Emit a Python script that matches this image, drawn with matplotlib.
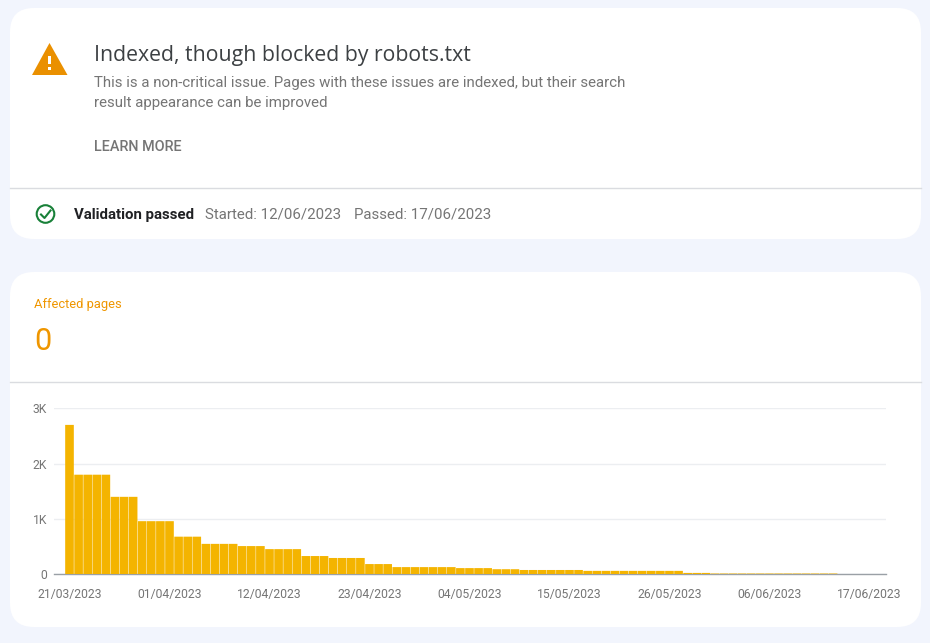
from matplotlib import pyplot as plt
from matplotlib.patches import FancyBboxPatch, Polygon, Circle, Rectangle
import pandas as pd

W, H = 930, 643
BG = '#f2f5fd'
BAR = '#f4b400'
ORANGE = '#ea9000'
GREY = '#757575'

start_date = '2023-03-21'
tick_every = 11
y_ticks = [0, 1000, 2000, 3000]
y_labels = ['0', '1K', '2K', '3K']
affected = ([2700] + [1800] * 4 + [1400] * 3 + [960] * 4 + [680] * 3 + [550] * 4
            + [510] * 3 + [455] * 4 + [330] * 3 + [295] * 4 + [185] * 3 + [130] * 7
            + [112] * 4 + [92] * 3 + [78] * 7 + [62] * 11 + [25] * 3 + [14] * 14
            + [0] * 4)

plt.rcParams['font.family'] = ['Roboto', 'DejaVu Sans']

fig = plt.figure(figsize=(W / 100, H / 100), dpi=100, facecolor=BG)

# page layer in pixel coordinates, y going down
page = fig.add_axes([0, 0, 1, 1])
page.set_xlim(0, W)
page.set_ylim(H, 0)
page.axis('off')


def card(x0, y0, x1, y1, r=24):
    page.add_patch(FancyBboxPatch((x0 + r, y0 + r), x1 - x0 - 2 * r, y1 - y0 - 2 * r,
                                  boxstyle=f'round,pad={r},rounding_size={r}',
                                  fc='white', ec='none'))


card(10, 8, 921, 239)
card(10, 272, 921, 627)
page.plot([10, 921], [188, 188], color='#dadce0', lw=1)
page.plot([10, 921], [382, 382], color='#dadce0', lw=1)

# warning icon
page.add_patch(Polygon([(32, 75), (49.5, 43), (67.5, 75)], fc=ORANGE, ec='none'))
page.add_patch(Rectangle((47.8, 56), 3.4, 8, fc='white', ec='none'))
page.add_patch(Rectangle((47.8, 66.5), 3.4, 3.4, fc='white', ec='none'))

# check icon
page.add_patch(Circle((45.5, 214), 8.8, fc='none', ec='#188038', lw=1.5))
page.plot([41, 44.5, 50.5], [214.5, 218, 210.5], color='#188038', lw=1.5)

page.text(93.5, 55.5, 'Indexed, though blocked by robots.txt', fontsize=15.35,
          family=['Open Sans', 'DejaVu Sans'], color='#3c4043', va='center')
page.text(93.5, 82.5, 'This is a non-critical issue. Pages with these issues are indexed, but their search',
          fontsize=10.8, color=GREY, va='center')
page.text(93.5, 102.5, 'result appearance can be improved', fontsize=10.8, color=GREY, va='center')
page.text(93.5, 147, 'LEARN MORE', fontsize=10.4, color=GREY, va='center', weight='medium')
page.text(73.5, 214.5, 'Validation passed', fontsize=10.85, color='#202124', va='center', weight='bold')
page.text(205, 214.5, 'Started: 12/06/2023', fontsize=10.8, color=GREY, va='center')
page.text(354, 214.5, 'Passed: 17/06/2023', fontsize=10.8, color=GREY, va='center')
page.text(34, 304.5, 'Affected pages', fontsize=9.25, color='#ef9600', va='center')
page.text(34, 341.5, '0', fontsize=22, color='#ef9600', va='center')

# chart
x0, x1, y0, y1 = 54, 886, 408.3, 574.3
ax = fig.add_axes([x0 / W, 1 - y1 / H, (x1 - x0) / W, (y1 - y0) / H])
ax.patch.set_alpha(0)
positions = list(range(len(affected)))
bars = ax.bar(positions, affected, width=0.95, color=BAR, zorder=3)
for bar in bars:
    bar.set_snap(False)
ax.set_xlim(-1.705, 89.82)
ax.set_ylim(0, 3000)

dates = pd.date_range(start_date, periods=len(affected) + 1)
x_ticks = list(range(0, len(dates), tick_every))
ax.set_xticks(x_ticks)
ax.set_xticklabels([dates[i].strftime('%d/%m/%Y') for i in x_ticks])
ax.set_yticks(y_ticks)
ax.set_yticklabels(y_labels)
ax.tick_params(axis='both', length=0, labelsize=8.75, labelcolor=GREY)
ax.tick_params(axis='x', pad=10)
ax.tick_params(axis='y', pad=5)
ax.grid(axis='y', color='#eceef1', lw=1, zorder=0)
for side in ['top', 'left', 'right']:
    ax.spines[side].set_visible(False)
ax.spines['bottom'].set_color('#9aa0a6')
ax.spines['bottom'].set_linewidth(1)
ax.spines['bottom'].set_zorder(2)

fig.savefig('out.png', dpi=100, facecolor=BG)
